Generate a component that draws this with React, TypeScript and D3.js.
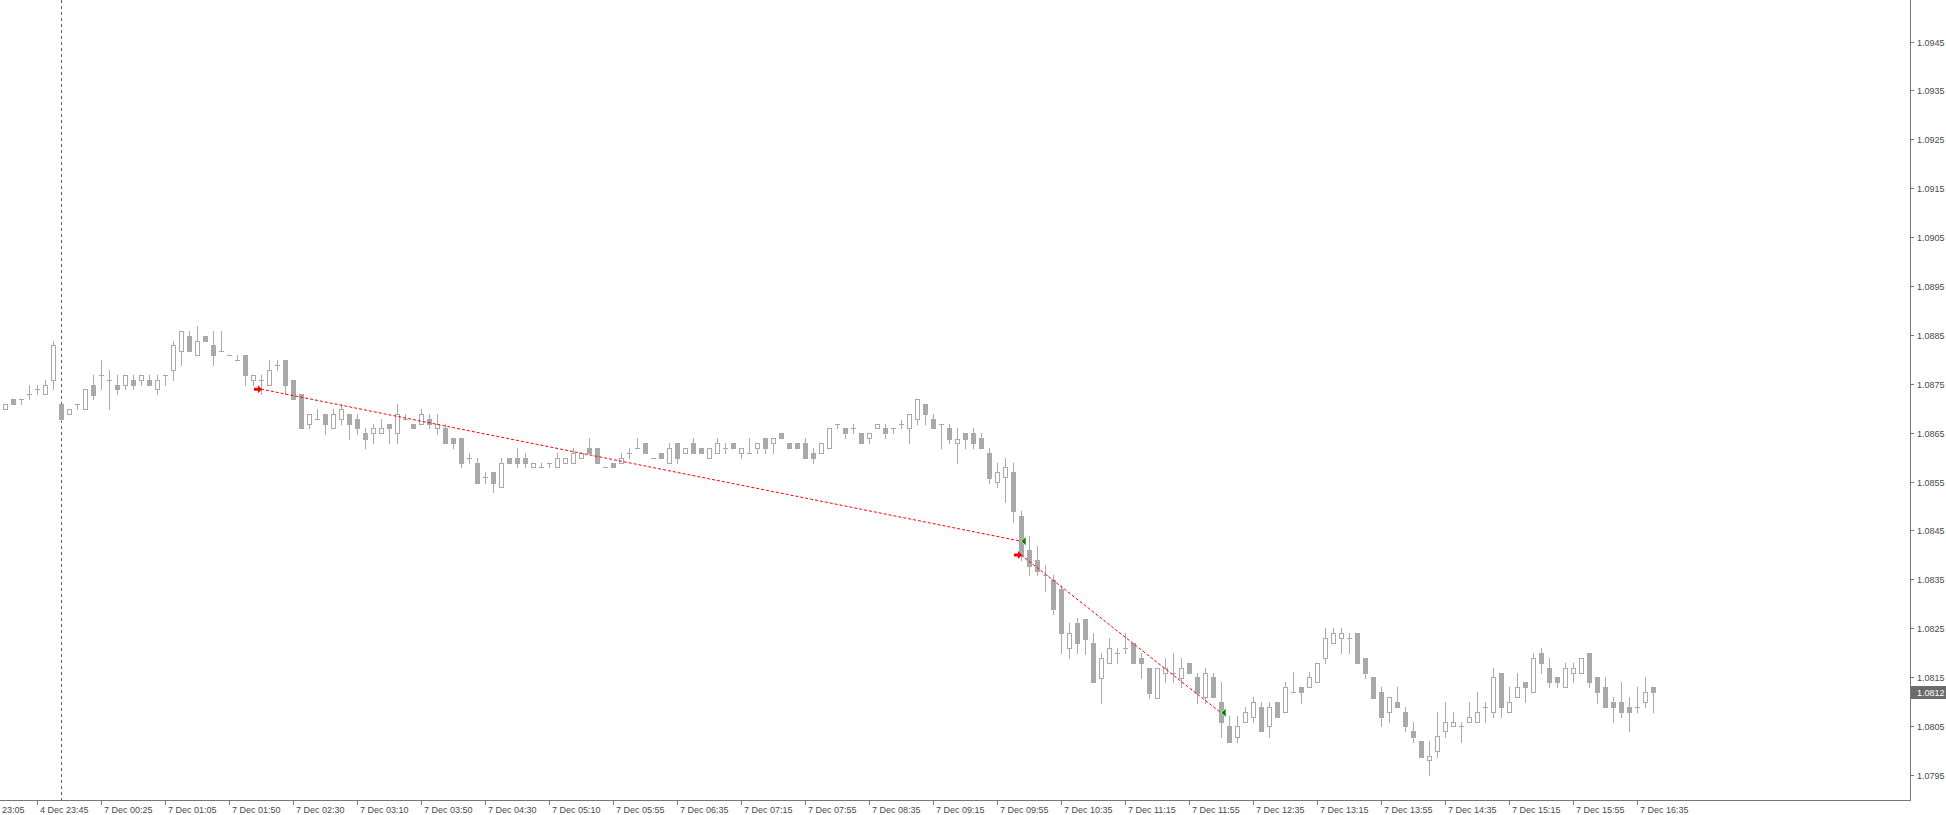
import React from 'react';
import * as d3 from 'd3';

const WIDTH = 1946;
const HEIGHT = 815;

// EURUSD M5 bars, [open, high, low, close]
const candles: [number, number, number, number][] = [
  [1.08698, 1.08708, 1.08698, 1.08708],
  [1.08718, 1.08718, 1.08708, 1.08708],
  [1.08718, 1.08718, 1.08708, 1.08718],
  [1.08729, 1.08747, 1.08718, 1.08729],
  [1.08739, 1.08747, 1.08729, 1.08739],
  [1.08729, 1.08757, 1.08729, 1.08747],
  [1.08757, 1.08838, 1.08739, 1.08829],
  [1.08708, 1.08708, 1.08675, 1.08677],
  [1.08688, 1.08698, 1.08688, 1.08698],
  [1.08708, 1.08708, 1.08698, 1.08708],
  [1.08698, 1.08739, 1.08698, 1.08739],
  [1.08747, 1.08767, 1.08718, 1.08728],
  [1.08767, 1.08798, 1.08739, 1.08767],
  [1.08757, 1.08778, 1.08698, 1.08757],
  [1.08747, 1.08767, 1.08729, 1.08739],
  [1.08747, 1.08767, 1.08739, 1.08767],
  [1.08757, 1.08767, 1.08739, 1.08747],
  [1.08757, 1.08767, 1.08747, 1.08767],
  [1.08757, 1.08767, 1.08747, 1.08747],
  [1.08739, 1.08767, 1.08729, 1.08757],
  [1.08767, 1.08767, 1.08747, 1.08767],
  [1.08778, 1.08838, 1.08757, 1.08829],
  [1.08818, 1.08857, 1.08788, 1.08857],
  [1.08847, 1.08857, 1.08818, 1.08818],
  [1.08808, 1.08868, 1.08808, 1.08837],
  [1.08847, 1.08847, 1.08837, 1.08837],
  [1.08829, 1.08857, 1.08788, 1.08808],
  [1.08818, 1.08857, 1.08818, 1.08818],
  [1.08808, 1.08808, 1.08808, 1.08808],
  [1.08798, 1.08808, 1.08798, 1.08798],
  [1.08808, 1.08808, 1.08747, 1.08767],
  [1.08757, 1.08767, 1.08747, 1.08767],
  [1.08757, 1.08767, 1.08729, 1.08757],
  [1.08747, 1.08798, 1.08747, 1.08778],
  [1.08788, 1.08798, 1.08778, 1.08788],
  [1.08798, 1.08798, 1.08729, 1.08747],
  [1.08757, 1.08757, 1.08718, 1.08718],
  [1.08729, 1.08729, 1.08659, 1.08659],
  [1.08667, 1.08688, 1.08659, 1.08688],
  [1.08677, 1.08698, 1.08677, 1.08677],
  [1.08688, 1.08688, 1.08647, 1.08667],
  [1.08659, 1.08698, 1.08659, 1.08688],
  [1.08677, 1.08708, 1.08667, 1.08698],
  [1.08688, 1.08688, 1.08637, 1.08667],
  [1.08677, 1.08688, 1.08647, 1.08659],
  [1.08649, 1.08659, 1.08618, 1.08637],
  [1.08649, 1.08667, 1.08628, 1.08659],
  [1.08649, 1.08677, 1.08649, 1.08659],
  [1.08667, 1.08667, 1.08628, 1.08659],
  [1.08649, 1.08708, 1.08628, 1.08688],
  [1.08677, 1.08688, 1.08677, 1.08677],
  [1.08667, 1.08667, 1.08659, 1.08659],
  [1.08667, 1.08698, 1.08667, 1.08688],
  [1.08677, 1.08688, 1.08659, 1.08667],
  [1.08659, 1.08688, 1.08647, 1.08667],
  [1.08659, 1.08667, 1.08628, 1.08628],
  [1.08639, 1.08639, 1.08618, 1.08628],
  [1.08639, 1.08639, 1.08579, 1.08587],
  [1.08598, 1.08608, 1.08587, 1.08598],
  [1.08587, 1.08598, 1.08548, 1.08548],
  [1.08559, 1.08569, 1.08548, 1.08559],
  [1.08569, 1.08569, 1.08528, 1.08548],
  [1.08538, 1.08598, 1.08538, 1.08587],
  [1.08598, 1.08598, 1.08587, 1.08587],
  [1.08598, 1.08618, 1.08579, 1.08587],
  [1.08598, 1.08608, 1.08579, 1.08587],
  [1.08579, 1.08587, 1.08579, 1.08587],
  [1.08579, 1.08587, 1.08579, 1.08579],
  [1.08587, 1.08587, 1.08579, 1.08587],
  [1.08579, 1.08608, 1.08579, 1.08598],
  [1.08587, 1.08598, 1.08587, 1.08598],
  [1.08587, 1.08618, 1.08587, 1.08608],
  [1.08598, 1.08608, 1.08598, 1.08608],
  [1.08618, 1.08639, 1.08608, 1.08608],
  [1.08618, 1.08618, 1.08587, 1.08587],
  [1.08579, 1.08579, 1.08579, 1.08579],
  [1.08587, 1.08587, 1.08579, 1.08579],
  [1.08587, 1.08608, 1.08587, 1.08598],
  [1.08608, 1.08618, 1.08598, 1.08608],
  [1.08618, 1.08639, 1.08618, 1.08618],
  [1.08628, 1.08628, 1.08608, 1.08608],
  [1.08598, 1.08598, 1.08598, 1.08598],
  [1.08608, 1.08608, 1.08598, 1.08598],
  [1.08587, 1.08628, 1.08587, 1.08618],
  [1.08628, 1.08628, 1.08587, 1.08598],
  [1.08608, 1.08618, 1.08608, 1.08618],
  [1.08628, 1.08639, 1.08608, 1.08608],
  [1.08618, 1.08618, 1.08608, 1.08608],
  [1.08598, 1.08618, 1.08598, 1.08618],
  [1.08608, 1.08639, 1.08608, 1.08628],
  [1.08618, 1.08628, 1.08608, 1.08618],
  [1.08628, 1.08628, 1.08618, 1.08618],
  [1.08608, 1.08618, 1.08598, 1.08618],
  [1.08608, 1.08639, 1.08608, 1.08608],
  [1.08618, 1.08628, 1.08608, 1.08628],
  [1.08639, 1.08639, 1.08608, 1.08618],
  [1.08628, 1.08639, 1.08608, 1.08639],
  [1.08649, 1.08649, 1.08639, 1.08639],
  [1.08628, 1.08628, 1.08618, 1.08618],
  [1.08628, 1.08628, 1.08618, 1.08618],
  [1.08628, 1.08639, 1.08598, 1.08598],
  [1.08608, 1.08618, 1.08587, 1.08598],
  [1.08608, 1.08628, 1.08608, 1.08628],
  [1.08618, 1.08659, 1.08618, 1.08659],
  [1.08667, 1.08667, 1.08659, 1.08667],
  [1.08659, 1.08659, 1.08639, 1.08649],
  [1.08659, 1.08667, 1.08649, 1.08659],
  [1.08649, 1.08649, 1.08628, 1.08628],
  [1.08639, 1.08649, 1.08628, 1.08649],
  [1.08659, 1.08667, 1.08659, 1.08667],
  [1.08659, 1.08667, 1.08639, 1.08649],
  [1.08659, 1.08659, 1.08649, 1.08659],
  [1.08667, 1.08676, 1.08659, 1.08667],
  [1.08659, 1.08688, 1.08628, 1.08688],
  [1.08677, 1.08718, 1.08667, 1.08718],
  [1.08708, 1.08708, 1.08667, 1.08688],
  [1.08677, 1.08688, 1.08659, 1.08659],
  [1.08667, 1.08667, 1.08618, 1.08667],
  [1.08659, 1.08667, 1.08628, 1.08638],
  [1.08628, 1.08659, 1.08587, 1.08638],
  [1.08649, 1.08649, 1.08618, 1.08638],
  [1.08649, 1.08659, 1.08618, 1.08628],
  [1.08639, 1.08649, 1.08618, 1.08618],
  [1.08608, 1.08618, 1.08548, 1.08558],
  [1.08549, 1.08587, 1.08538, 1.08569],
  [1.08559, 1.08598, 1.08508, 1.08579],
  [1.08569, 1.08587, 1.08468, 1.08489],
  [1.0848, 1.0849, 1.0839, 1.08397],
  [1.0841, 1.08439, 1.08358, 1.08378],
  [1.0839, 1.08418, 1.08358, 1.08368],
  [1.08359, 1.0838, 1.08327, 1.08359],
  [1.08348, 1.08359, 1.0828, 1.0829],
  [1.0833, 1.08338, 1.082, 1.0824],
  [1.0821, 1.0826, 1.0819, 1.0824],
  [1.0826, 1.0827, 1.082, 1.0822],
  [1.08269, 1.08269, 1.08198, 1.08228],
  [1.0822, 1.0824, 1.08139, 1.08139],
  [1.08149, 1.08199, 1.08098, 1.08189],
  [1.08178, 1.0823, 1.08178, 1.08209],
  [1.08199, 1.08209, 1.08178, 1.08199],
  [1.08209, 1.0824, 1.08199, 1.08209],
  [1.0822, 1.0822, 1.08178, 1.08178],
  [1.08189, 1.08199, 1.08149, 1.08178],
  [1.08168, 1.08168, 1.08108, 1.08118],
  [1.08108, 1.08168, 1.08108, 1.08168],
  [1.08158, 1.08189, 1.08139, 1.08168],
  [1.08158, 1.08199, 1.08139, 1.08158],
  [1.08149, 1.08189, 1.08129, 1.08168],
  [1.08178, 1.08178, 1.08158, 1.08158],
  [1.0815, 1.08158, 1.08098, 1.08118],
  [1.08109, 1.08168, 1.08098, 1.08158],
  [1.0815, 1.08158, 1.08109, 1.08109],
  [1.08099, 1.0814, 1.08028, 1.08059],
  [1.0805, 1.0807, 1.08018, 1.08018],
  [1.08028, 1.0807, 1.08018, 1.0805],
  [1.08059, 1.08088, 1.08059, 1.08078],
  [1.08069, 1.08109, 1.08059, 1.08099],
  [1.08088, 1.08099, 1.08039, 1.08039],
  [1.08049, 1.08099, 1.08028, 1.08088],
  [1.08099, 1.08099, 1.08069, 1.08069],
  [1.08078, 1.0814, 1.08078, 1.08129],
  [1.08119, 1.0816, 1.08119, 1.08119],
  [1.08129, 1.08129, 1.08098, 1.08119],
  [1.08129, 1.0816, 1.08129, 1.0815],
  [1.0814, 1.08178, 1.0814, 1.08178],
  [1.08189, 1.0825, 1.08178, 1.0823],
  [1.08219, 1.0825, 1.08219, 1.0824],
  [1.0823, 1.0825, 1.08199, 1.0824],
  [1.0823, 1.0824, 1.08199, 1.0823],
  [1.0824, 1.0824, 1.08178, 1.08178],
  [1.08189, 1.08189, 1.08149, 1.08158],
  [1.0815, 1.0815, 1.08108, 1.08108],
  [1.08119, 1.08129, 1.08049, 1.08069],
  [1.08078, 1.08109, 1.08059, 1.08109],
  [1.08099, 1.08129, 1.08088, 1.08088],
  [1.08078, 1.08088, 1.08039, 1.08049],
  [1.0804, 1.08059, 1.08018, 1.08028],
  [1.0802, 1.0802, 1.07987, 1.07987],
  [1.07981, 1.0802, 1.07949, 1.07989],
  [1.07998, 1.08078, 1.07987, 1.0803],
  [1.08039, 1.08099, 1.08028, 1.08059],
  [1.08049, 1.08078, 1.08049, 1.08059],
  [1.08049, 1.08059, 1.08018, 1.08049],
  [1.08059, 1.08099, 1.08059, 1.08069],
  [1.08059, 1.08119, 1.08059, 1.08078],
  [1.08088, 1.08099, 1.08059, 1.08088],
  [1.08078, 1.08168, 1.08069, 1.0815],
  [1.08158, 1.08158, 1.08069, 1.08088],
  [1.08078, 1.08129, 1.08078, 1.08099],
  [1.08109, 1.08158, 1.08109, 1.08129],
  [1.0814, 1.0814, 1.08099, 1.08129],
  [1.08119, 1.08199, 1.08119, 1.08189],
  [1.08199, 1.08209, 1.08158, 1.08178],
  [1.08168, 1.08189, 1.08129, 1.0814],
  [1.0815, 1.0815, 1.08129, 1.0814],
  [1.08129, 1.08178, 1.08129, 1.08168],
  [1.08158, 1.08178, 1.0814, 1.08168],
  [1.08158, 1.08189, 1.08158, 1.08189],
  [1.08199, 1.08199, 1.08129, 1.0814],
  [1.0815, 1.0815, 1.08098, 1.08119],
  [1.08129, 1.0815, 1.08088, 1.08088],
  [1.08099, 1.08109, 1.08059, 1.08088],
  [1.08099, 1.0814, 1.08069, 1.08078],
  [1.08088, 1.08109, 1.08039, 1.08078],
  [1.08088, 1.08129, 1.08078, 1.08088],
  [1.08099, 1.0815, 1.08088, 1.08119],
  [1.08129, 1.08129, 1.08078, 1.08119],
];

// time axis labels: [bar index, text]
const timeLabels: [number, string][] = [
  [-4, '4 Dec 23:05'], [4, '4 Dec 23:45'], [12, '7 Dec 00:25'], [20, '7 Dec 01:05'],
  [28, '7 Dec 01:50'], [36, '7 Dec 02:30'], [44, '7 Dec 03:10'], [52, '7 Dec 03:50'],
  [60, '7 Dec 04:30'], [68, '7 Dec 05:10'], [76, '7 Dec 05:55'], [84, '7 Dec 06:35'],
  [92, '7 Dec 07:15'], [100, '7 Dec 07:55'], [108, '7 Dec 08:35'], [116, '7 Dec 09:15'],
  [124, '7 Dec 09:55'], [132, '7 Dec 10:35'], [140, '7 Dec 11:15'], [148, '7 Dec 11:55'],
  [156, '7 Dec 12:35'], [164, '7 Dec 13:15'], [172, '7 Dec 13:55'], [180, '7 Dec 14:35'],
  [188, '7 Dec 15:15'], [196, '7 Dec 15:55'], [204, '7 Dec 16:35'],
];

const priceTicks = [
  1.0945, 1.0935, 1.0925, 1.0915, 1.0905, 1.0895, 1.0885, 1.0875,
  1.0865, 1.0855, 1.0845, 1.0835, 1.0825, 1.0815, 1.0805, 1.0795,
];

const bidPrice = 1.0812;
const dayStartBar = 7; // period separator (7 Dec 00:00)

// closed orders: [open bar, open price, close bar, close price]
const trades: [number, number, number, number][] = [
  [32, 1.08739, 127, 1.08428],
  [127, 1.084, 152, 1.08077],
];

const AXIS_X = 1910;
const AXIS_Y = 800;
const CANDLE = '#a9a9a9';
const TEXT = '#4a4a4a';
const FONT = '"Liberation Sans", Arial, sans-serif';

const App: React.FC = () => {
  const x = d3.scaleLinear().domain([0, 206]).range([5, 1653]);
  const y = d3.scaleLinear().domain([1.0795, 1.0945]).range([774.9, 41.5]);
  const ry = (p: number) => Math.round(y(p));

  return (
    <svg
      width={WIDTH}
      height={HEIGHT}
      style={{ position: 'absolute', left: 0, top: 0, background: '#fff' }}
      shapeRendering="crispEdges"
    >
      <rect x={0} y={0} width={WIDTH} height={HEIGHT} fill="#fff" />

      {/* period separator */}
      <line
        x1={x(dayStartBar) + 0.5}
        x2={x(dayStartBar) + 0.5}
        y1={0}
        y2={AXIS_Y}
        stroke="#666"
        strokeDasharray="3,3"
      />

      {/* candles */}
      {candles.map(([o, h, l, c], i) => {
        const cx = Math.round(x(i));
        const top = ry(Math.max(o, c));
        const bot = ry(Math.min(o, c));
        const bull = c > o;
        const bear = c < o;
        return (
          <g key={i}>
            <line x1={cx + 0.5} x2={cx + 0.5} y1={ry(h)} y2={ry(l) + 1} stroke={CANDLE} />
            {bear && (
              <rect x={cx - 2} y={top} width={5} height={bot - top + 1} fill={CANDLE} />
            )}
            {bull && (
              <rect x={cx - 1.5} y={top + 0.5} width={4} height={bot - top} fill="#fff" stroke={CANDLE} />
            )}
            {!bull && !bear && (
              <line x1={cx - 2} x2={cx + 3} y1={top + 0.5} y2={top + 0.5} stroke={CANDLE} />
            )}
          </g>
        );
      })}

      {/* order history */}
      {trades.map(([ob, op, cb, cp], i) => {
        const x1 = x(ob);
        const y1 = y(op);
        const x2 = x(cb);
        const y2 = y(cp);
        return (
          <g key={i} shapeRendering="auto">
            <line x1={x1} y1={y1} x2={x2} y2={y2} stroke="#ff0000" strokeWidth={1} strokeDasharray="3,2" />
            <path
              d={`M${x1 + 1},${y1} L${x1 - 3},${y1 - 4} L${x1 - 3},${y1 - 1.5} L${x1 - 7},${y1 - 1.5} L${x1 - 7},${y1 + 1.5} L${x1 - 3},${y1 + 1.5} L${x1 - 3},${y1 + 4} Z`}
              fill="#ff0000"
            />
            <path
              d={`M${x2},${y2} L${x2 + 5},${y2 - 4.5} L${x2 + 5},${y2 + 4.5} Z`}
              fill="#008000"
              stroke="#fff"
              strokeWidth={0.6}
            />
          </g>
        );
      })}

      {/* frame */}
      <line x1={AXIS_X + 0.5} x2={AXIS_X + 0.5} y1={0} y2={AXIS_Y + 1} stroke="#777" />
      <line x1={0} x2={AXIS_X + 1} y1={AXIS_Y + 0.5} y2={AXIS_Y + 0.5} stroke="#777" />

      {/* price axis */}
      {priceTicks.map((p) => (
        <g key={p}>
          <line x1={AXIS_X + 1} x2={AXIS_X + 4} y1={ry(p) + 0.5} y2={ry(p) + 0.5} stroke="#777" />
          <text
            x={AXIS_X + 7}
            y={ry(p) + 3.5}
            fontFamily={FONT}
            fontSize={9}
            fill={TEXT}
          >
            {d3.format('.4f')(p)}
          </text>
        </g>
      ))}

      {/* bid label */}
      <rect x={AXIS_X + 1} y={ry(bidPrice) - 6} width={WIDTH - AXIS_X - 1} height={13} fill="#6b6b6b" />
      <text
        x={AXIS_X + 7}
        y={ry(bidPrice) + 3.5}
        fontFamily={FONT}
        fontSize={9}
        fill="#fff"
      >
        {d3.format('.4f')(bidPrice)}
      </text>

      {/* time axis */}
      {timeLabels.map(([b, t]) => {
        const tx = Math.round(x(b));
        return (
          <g key={b}>
            <line x1={tx + 0.5} x2={tx + 0.5} y1={AXIS_Y + 1} y2={AXIS_Y + 5} stroke="#777" />
            <text x={tx + 3} y={AXIS_Y + 12.5} fontFamily={FONT} fontSize={9} fill={TEXT}>
              {t}
            </text>
          </g>
        );
      })}
    </svg>
  );
};

export default App;
